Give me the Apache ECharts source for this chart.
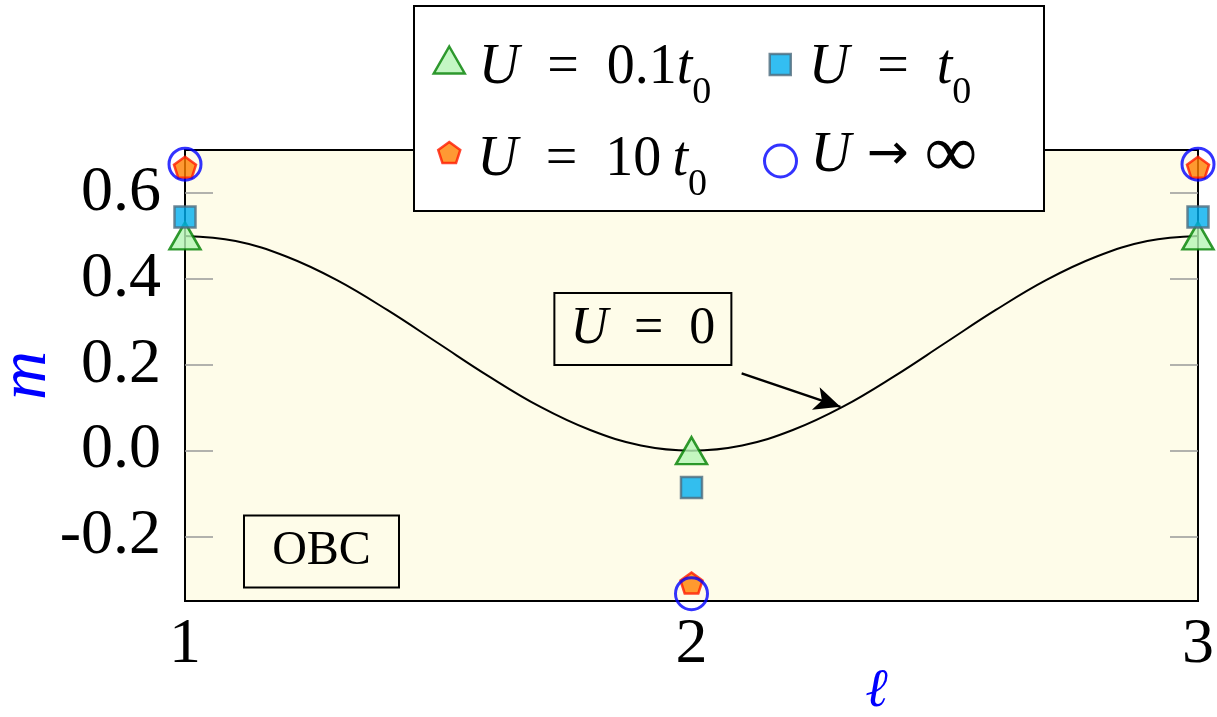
<!DOCTYPE html>
<html>
<head>
<meta charset="utf-8">
<script src="https://cdn.jsdelivr.net/npm/echarts@6/dist/echarts.min.js"></script>
<style>
  html, body { margin: 0; padding: 0; background: #fff; }
  #chart { width: 1217px; height: 717px; }
</style>
</head>
<body>
<div id="chart"></div>
<script>
// site index l and staggered magnetization m
const ells = [1, 2, 3]
const mWeak = [0.5, 0, 0.5]          // U = 0.1 t0
const mMid = [0.544, -0.086, 0.544]  // U = t0
const mStrong = [0.66, -0.308, 0.66] // U = 10 t0
const mInf = [0.667, -0.333, 0.667]  // U -> inf

// U = 0 curve
const curveL = [1, 1.1, 1.2, 1.3, 1.4, 1.5, 1.6, 1.7, 1.8, 1.9, 2, 2.1, 2.2, 2.3, 2.4, 2.5, 2.6, 2.7, 2.8, 2.9, 3]
const curveM = [0.5, 0.488, 0.452, 0.397, 0.327, 0.25, 0.173, 0.103, 0.048, 0.012, 0, 0.012, 0.048, 0.103, 0.173, 0.25, 0.327, 0.397, 0.452, 0.488, 0.5]

const yTicks = [-0.2, 0, 0.2, 0.4, 0.6]
const xTicks = [1, 2, 3]

const serif = 'Liberation Serif'
const cream = '#fefce9'

const zip = (xs, ys) => xs.map((x, i) => [x, ys[i]])

// Pentagon marker
const pentagon = 'path://M0,-10L9.51,-3.09L5.88,8.09L-5.88,8.09L-9.51,-3.09Z'

const markers = {
  weak: { symbol: 'triangle', size: [31, 27], style: { color: '#b5f5b5', borderColor: '#008000', borderWidth: 2.5 } },
  mid: { symbol: 'rect', size: [21, 21], style: { color: '#00aeef', borderColor: '#4f6b7d', borderWidth: 2.5 } },
  strong: { symbol: pentagon, size: [22, 22], style: { color: '#ff7f00', borderColor: '#ff1a00', borderWidth: 2.5 } },
  inf: { symbol: 'circle', size: [32, 32], style: { color: 'rgba(0,0,0,0)', borderColor: '#0000ff', borderWidth: 3 } }
}

// rich text styles for a legend entry (math-like text with subscript)
const richFor = (padLeft, off) => {
  const top = off >= 0 ? 2 * off : 0
  const bottom = off < 0 ? -2 * off : 0
  const main = { fontFamily: serif, fontSize: 56, lineHeight: 60, color: '#000' }
  return {
    u: { ...main, fontStyle: 'italic', padding: [top, 0, bottom, padLeft] },
    r: { ...main, padding: [top, 0, bottom, 0] },
    a: { ...main, fontFamily: 'DejaVu Sans', fontSize: 50, padding: [top, 0, bottom, 0] },
    n: { ...main, fontSize: 74, padding: [top, 0, bottom, 0] },
    t: { ...main, fontStyle: 'italic', padding: [top, 0, bottom, 0] },
    s: { fontFamily: serif, fontSize: 38, lineHeight: 38, color: '#000', padding: [2 * (off + 25), 0, 0, 0] }
  }
}

const legendItems = [
  { name: 'U=0.1t0', text: '{u|U}{r|  =  0.1}{t|t}{s|0}', key: 'weak', cx: 448, cy: 60, padLeft: 9, off: 8, sub: true },
  { name: 'U=t0', text: '{u|U}{r|  =  }{t|t}{s|0}', key: 'mid', cx: 779, cy: 64.5, padLeft: 13, off: 3.5, sub: true },
  { name: 'U=10t0', text: '{u|U}{r|  =  10\u2009}{t|t}{s|0}', key: 'strong', cx: 448, cy: 152.5, padLeft: 12, off: 8, sub: true },
  { name: 'U->inf', text: '{u|U}{a| \u2192 }{n|\u221E}', key: 'inf', cx: 779, cy: 154, padLeft: 9, off: -4.5, sub: false }
]

const legends = legendItems.map(it => {
  const mk = markers[it.key]
  const h = Math.max(60 + 2 * Math.abs(it.off), it.sub ? 38 + 2 * (it.off + 25) : 0)
  return {
    data: [{ name: it.name, icon: mk.symbol, itemStyle: mk.style }],
    left: it.cx - mk.size[0] / 2,
    top: it.cy - h / 2,
    padding: 0,
    itemWidth: mk.size[0],
    itemHeight: mk.size[1],
    selectedMode: false,
    z: 20,
    formatter: () => it.text,
    textStyle: { rich: richFor(it.padLeft, it.off) }
  }
})

const scatter = (name, key, ys) => ({
  name,
  type: 'scatter',
  data: zip(ells, ys),
  symbol: markers[key].symbol,
  symbolSize: markers[key].size,
  symbolKeepAspect: true,
  itemStyle: markers[key].style,
  clip: false,
  z: 3
})

const chart = echarts.init(document.getElementById('chart'))

const option = {
  animation: false,
  backgroundColor: '#fff',
  grid: {
    left: 185, right: 19, top: 150, bottom: 116,
    outerBoundsMode: 'none',
    containLabel: false,
    show: true,
    backgroundColor: cream,
    borderColor: '#000',
    borderWidth: 2
  },
  legend: legends,
  xAxis: {
    type: 'value',
    min: 1, max: 3, interval: 1,
    name: '\u2113',
    nameLocation: 'middle',
    nameGap: 64,
    nameMoveOverlap: false,
    nameTextStyle: { color: '#0000ff', fontFamily: serif, fontStyle: 'italic', fontSize: 54, padding: [0, 0, 0, 370] },
    axisLine: { onZero: false, lineStyle: { color: '#000', width: 2 } },
    axisTick: { show: false },
    splitLine: { show: false },
    axisLabel: {
      customValues: xTicks,
      margin: 12,
      color: '#000',
      fontFamily: serif,
      fontSize: 64
    }
  },
  yAxis: [
    {
      type: 'value',
      min: -0.35, max: 0.7,
      name: 'm',
      nameLocation: 'middle',
      nameGap: 124,
      nameMoveOverlap: false,
      nameTextStyle: { color: '#0000ff', fontFamily: serif, fontStyle: 'italic', fontSize: 68 },
      axisLine: { show: true, onZero: false, lineStyle: { color: '#000', width: 2 } },
      axisTick: { inside: true, length: 28, customValues: yTicks, lineStyle: { color: '#999', width: 1.5 } },
      splitLine: { show: false },
      axisLabel: {
        customValues: yTicks,
        margin: 24,
        color: '#000',
        fontFamily: serif,
        fontSize: 64,
        formatter: v => v.toFixed(1)
      }
    },
    {
      type: 'value',
      position: 'right',
      min: -0.35, max: 0.7,
      axisLine: { show: true, onZero: false, lineStyle: { color: '#000', width: 2 } },
      axisTick: { inside: true, length: 28, customValues: yTicks, lineStyle: { color: '#999', width: 1.5 } },
      splitLine: { show: false },
      axisLabel: { show: false }
    }
  ],
  graphic: [
    {
      type: 'rect',
      z: 10,
      shape: { x: 414, y: 6, width: 630, height: 205 },
      style: { fill: '#fff', stroke: '#000', lineWidth: 2 }
    }
  ],
  series: [
    {
      name: 'U=0',
      type: 'line',
      data: zip(curveL, curveM),
      showSymbol: false,
      smooth: 0.4,
      lineStyle: { color: '#000', width: 2 },
      z: 2,
      silent: true,
      markLine: {
        silent: true,
        symbol: ['none', 'arrow'],
        symbolSize: [18, 26],
        lineStyle: { color: '#000', width: 2.5, type: 'solid' },
        label: { show: false },
        data: [[{ coord: [2.099, 0.18] }, { coord: [2.294, 0.102] }]]
      },
      markPoint: {
        silent: true,
        symbol: 'rect',
        symbolSize: 1,
        itemStyle: { color: 'rgba(0,0,0,0)' },
        data: [
          {
            coord: [1.904, 0.283],
            label: {
              show: true,
              position: 'inside',
              formatter: '{u|U}{r|  =  0}',
              width: 175,
              height: 70,
              align: 'center',
              verticalAlign: 'middle',
              backgroundColor: cream,
              borderColor: '#000',
              borderWidth: 2,
              rich: {
                u: { fontFamily: serif, fontStyle: 'italic', fontSize: 52, lineHeight: 70, color: '#000' },
                r: { fontFamily: serif, fontSize: 52, lineHeight: 70, color: '#000' }
              }
            }
          },
          {
            coord: [1.2695, -0.2347],
            label: {
              show: true,
              position: 'inside',
              formatter: 'OBC',
              width: 153,
              height: 70,
              lineHeight: 70,
              align: 'center',
              verticalAlign: 'middle',
              backgroundColor: cream,
              borderColor: '#000',
              borderWidth: 2,
              fontFamily: serif,
              fontSize: 48,
              color: '#000'
            }
          }
        ]
      }
    },
    scatter('U=0.1t0', 'weak', mWeak),
    scatter('U=t0', 'mid', mMid),
    scatter('U=10t0', 'strong', mStrong),
    scatter('U->inf', 'inf', mInf)
  ]
}

chart.setOption(option)
</script>
</body>
</html>
